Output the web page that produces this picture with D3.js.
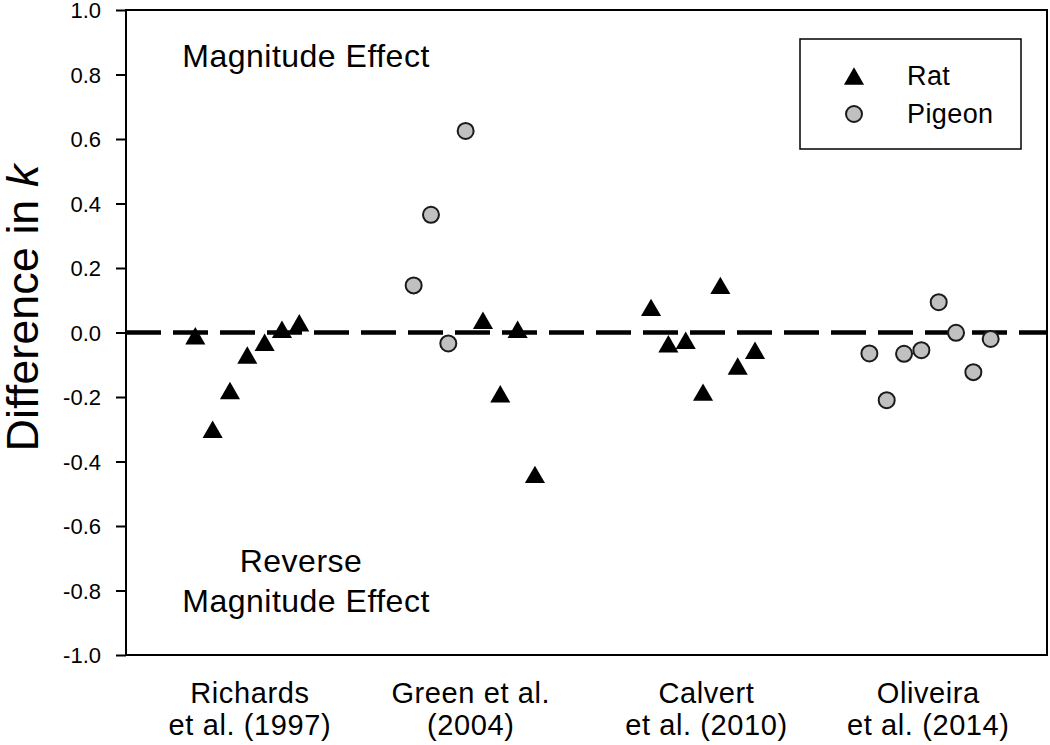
<!DOCTYPE html>
<html>
<head>
<meta charset="utf-8">
<script src="https://cdn.jsdelivr.net/npm/d3@7"></script>
<style>
  body { margin: 0; background: #fff; }
  text { font-family: "Liberation Sans", Arial, sans-serif; fill: #000; }
</style>
</head>
<body>
<div id="chart"></div>
<script>
// study labels and where they sit on the x position scale
var studyLines = [["Richards", "et al. (1997)"], ["Green et al.", "(2004)"], ["Calvert", "et al. (2010)"], ["Oliveira", "et al. (2014)"]];
var studyPos = [7.15, 19.9, 33.5, 46.3];

// rat points (x position, difference in k)
var ratX = [4, 5, 6, 7, 8, 9, 10, 20.6, 21.6, 22.6, 23.6, 30.3, 31.3, 32.3, 33.3, 34.3, 35.3, 36.3];
var ratK = [-0.01, -0.30, -0.18, -0.07, -0.03, 0.01, 0.03, 0.038, -0.19, 0.01, -0.44, 0.078, -0.035, -0.024, -0.185, 0.146, -0.104, -0.055];

// pigeon points
var pigeonX = [16.6, 17.6, 18.6, 19.6, 42.9, 43.9, 44.9, 45.9, 46.9, 47.9, 48.9, 49.9];
var pigeonK = [0.146, 0.365, -0.034, 0.625, -0.065, -0.21, -0.066, -0.055, 0.094, -0.001, -0.123, -0.02];

var yTicks = [-1.0, -0.8, -0.6, -0.4, -0.2, 0.0, 0.2, 0.4, 0.6, 0.8, 1.0];

var margin = {top: 10, right: 3, bottom: 90, left: 126},
    width = 1050 - margin.left - margin.right,
    height = 745 - margin.top - margin.bottom;

var xScale = d3.scaleLinear().domain([0, 53.15]).range([0, width]);
var yScale = d3.scaleLinear().domain([-1, 1]).range([height, 0]);

// triangle centred on its bounding box, like the original plot
var triUp = {
  draw: function(ctx, size) {
    var w = Math.sqrt(size * 4 / Math.sqrt(3)), h = w * Math.sqrt(3) / 2;
    ctx.moveTo(0, -h / 2);
    ctx.lineTo(w / 2, h / 2);
    ctx.lineTo(-w / 2, h / 2);
    ctx.closePath();
  }
};
var triPath = d3.symbol().type(triUp).size(175)();

var svg = d3.select("#chart").append("svg")
    .attr("width", 1050)
    .attr("height", 745)
  .append("g")
    .attr("transform", "translate(" + margin.left + "," + margin.top + ")");

// y axis
var yAxis = d3.axisLeft(yScale)
    .tickValues(yTicks)
    .tickFormat(function(d) { return d3.format(".1f")(d).replace("\u2212", "-"); })
    .tickSize(10)
    .tickPadding(15);

var gy = svg.append("g").attr("class", "y axis").call(yAxis);
gy.select(".domain").remove();
gy.selectAll(".tick line").attr("stroke", "#000").attr("stroke-width", 2);
gy.selectAll(".tick text").style("font-size", "22px").attr("fill", "#000").attr("dy", "0.36em");

// frame
svg.append("rect")
    .attr("width", width)
    .attr("height", height)
    .attr("fill", "none")
    .attr("stroke", "#000")
    .attr("stroke-width", 2);

// zero reference line
svg.append("line")
    .attr("x1", 0).attr("x2", width)
    .attr("y1", yScale(0)).attr("y2", yScale(0))
    .attr("stroke", "#000")
    .attr("stroke-width", 4.5)
    .attr("stroke-dasharray", "35,12");

// rats
svg.selectAll("path.rat")
    .data(d3.zip(ratX, ratK))
  .enter().append("path")
    .attr("class", "rat")
    .attr("d", triPath)
    .attr("transform", function(d) { return "translate(" + xScale(d[0]) + "," + yScale(d[1]) + ")"; })
    .attr("fill", "#000");

// pigeons
svg.selectAll("circle.pigeon")
    .data(d3.zip(pigeonX, pigeonK))
  .enter().append("circle")
    .attr("class", "pigeon")
    .attr("cx", function(d) { return xScale(d[0]); })
    .attr("cy", function(d) { return yScale(d[1]); })
    .attr("r", 8)
    .attr("fill", "#c0c0c0")
    .attr("stroke", "#1a1a1a")
    .attr("stroke-width", 2);

// study labels under the plot
var labels = svg.selectAll("text.study")
    .data(d3.zip(studyPos, studyLines))
  .enter().append("text")
    .attr("class", "study")
    .attr("text-anchor", "middle")
    .style("font-size", "29px")
    .style("letter-spacing", "0.6px");
labels.selectAll("tspan")
    .data(function(d) { return d[1].map(function(t) { return [d[0], t]; }); })
  .enter().append("tspan")
    .attr("x", function(d) { return xScale(d[0]); })
    .attr("y", function(d, i) { return height + 48 + i * 32; })
    .text(function(d) { return d[1]; });

// annotations
svg.append("text")
    .attr("x", 180).attr("y", 57)
    .attr("text-anchor", "middle")
    .style("font-size", "32px")
    .style("letter-spacing", "0.5px")
    .text("Magnitude Effect");

var rev = svg.append("text")
    .attr("text-anchor", "middle")
    .style("font-size", "32px")
    .style("letter-spacing", "0.5px");
rev.append("tspan").attr("x", 175).attr("y", 562).text("Reverse");
rev.append("tspan").attr("x", 180).attr("y", 602).text("Magnitude Effect");

// y title
var yt = svg.append("text")
    .attr("transform", "translate(" + (-88) + "," + 298 + ") rotate(-90)")
    .attr("text-anchor", "middle")
    .style("font-size", "45px");
yt.append("tspan").text("Difference in ");
yt.append("tspan").style("font-style", "italic").text("k");

// legend
var legend = svg.append("g").attr("transform", "translate(" + (800 - margin.left) + "," + (39 - margin.top) + ")");
legend.append("rect")
    .attr("width", 221).attr("height", 110)
    .attr("fill", "#fff")
    .attr("stroke", "#000")
    .attr("stroke-width", 1.5);
legend.append("path")
    .attr("d", triPath)
    .attr("transform", "translate(54,37)")
    .attr("fill", "#000");
legend.append("circle")
    .attr("cx", 54).attr("cy", 75).attr("r", 8)
    .attr("fill", "#c0c0c0").attr("stroke", "#1a1a1a").attr("stroke-width", 2);
legend.append("text").attr("x", 107).attr("y", 46).style("font-size", "27px").style("letter-spacing", "0.4px").text("Rat");
legend.append("text").attr("x", 107).attr("y", 84).style("font-size", "27px").style("letter-spacing", "0.4px").text("Pigeon");
</script>
</body>
</html>
